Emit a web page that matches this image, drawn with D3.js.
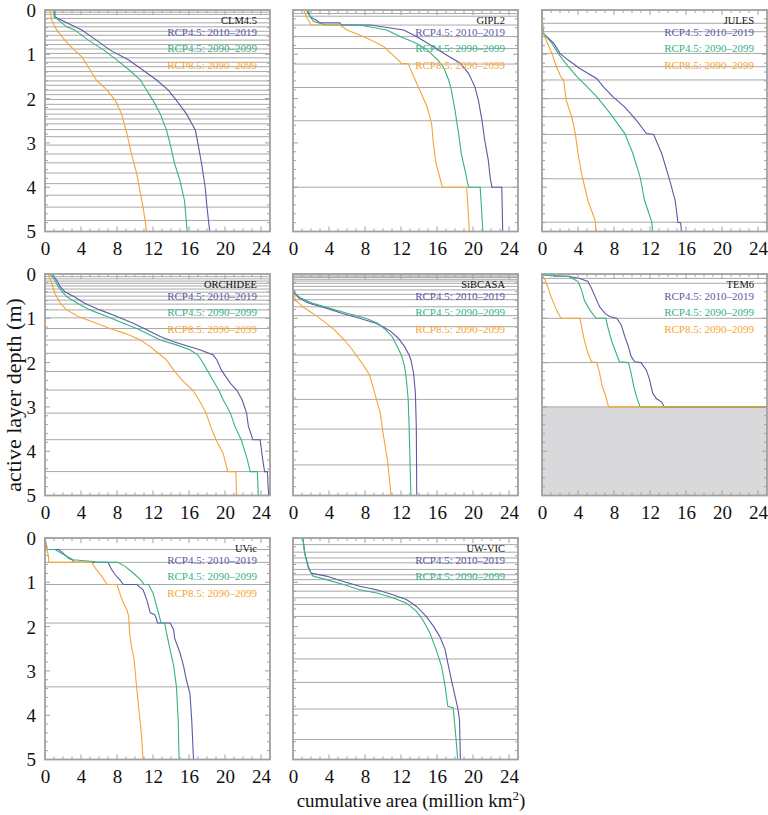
<!DOCTYPE html>
<html><head><meta charset="utf-8">
<script src="https://cdn.jsdelivr.net/npm/d3@7"></script>
<style>body{margin:0;background:#fff}svg{display:block}</style>
</head><body><svg id="c" width="768" height="815"></svg>
<script>
// ---------- data ----------
const modelNames = ["CLM4.5","GIPL2","JULES","ORCHIDEE","SiBCASA","TEM6","UVic","UW-VIC"];
const seriesNames = ["RCP4.5: 2010\u20132019","RCP4.5: 2090\u20132099","RCP8.5: 2090\u20132099"];
const seriesColors = ["#5b5aa5","#35b283","#f6a435"];
const xTicks = [0,4,8,12,16,20,24];
const yTicks = [0,1,2,3,4,5];
const xTitle = "cumulative area (million km";
const yTitle = "active layer depth (m)";

// soil layer boundaries (m)
const layersCLM = [0.05,0.1,0.19,0.29,0.38,0.48,0.57,0.68,0.78,0.88,0.98,1.08,1.18,1.28,1.39,1.49,1.6,1.7,1.81,1.91,2.02,2.13,2.24,2.35,2.46,2.57,2.7,2.86,3.05,3.25,3.45,3.68,3.92,4.18,4.45,4.75];
const layersGIPL = [0.08,0.14,0.34,0.6,0.87,1.22,1.75,2.5,4.0];
const layersJULES = [0.3,0.49,0.98,1.28,1.58,2.0,2.41,2.81,3.81,4.79];
const layersORC = [0.06,0.11,0.16,0.21,0.27,0.34,0.41,0.5,0.59,0.68,0.81,0.99,1.23,1.49,1.79,2.2,2.62,3.14,3.74,4.46];
const layersSIB = [0.02,0.05,0.08,0.12,0.16,0.21,0.28,0.36,0.46,0.58,0.74,0.94,1.19,1.49,1.83,2.28,2.83,3.5,4.31];
const layersTEM = [0.1,0.21,1.0,2.0,3.0];
const layersUVIC = [0.26,0.55,1.05,1.92,3.36];
const layersUW = [0.15,0.32,0.45,0.56,0.71,0.83,0.94,1.05,1.2,1.35,1.5,1.77,2.26,2.73,3.26,3.86,4.55];

// curves: [cumulative area (million km2), depth (m)]
const clmA = [[1.1,0],[1.1,0.15],[1.5,0.2],[4.1,0.45],[5.7,0.68],[7.2,0.9],[9.3,1.13],[10.9,1.36],[12.4,1.58],[13.7,1.81],[14.6,2.04],[15.7,2.34],[16.7,2.71],[17.0,3.02],[17.4,3.47],[17.8,4.0],[18.0,4.45],[18.3,5]];
const clmB = [[1.0,0],[1.0,0.15],[1.5,0.23],[2.4,0.38],[3.3,0.45],[4.8,0.68],[6.5,0.9],[8.0,1.13],[9.4,1.36],[10.6,1.58],[11.3,1.81],[12.0,2.04],[12.8,2.34],[13.5,2.71],[13.9,3.02],[14.4,3.47],[15.0,3.85],[15.5,4.3],[15.8,5]];
const clmC = [[0.6,0],[0.6,0.08],[0.75,0.23],[1.3,0.45],[2.2,0.68],[3.1,0.87],[4.1,1.06],[4.8,1.28],[5.7,1.58],[6.9,1.81],[7.8,2.04],[8.5,2.34],[9.1,2.79],[9.6,3.24],[10.2,3.7],[10.6,4.15],[10.9,4.45],[11.3,5]];

const giplA = [[1.5,0],[1.9,0.15],[2.6,0.23],[3.0,0.29],[5.2,0.29],[5.4,0.34],[8.6,0.34],[12.3,0.45],[13.7,0.6],[15.6,0.83],[17.1,1.02],[18.6,1.2],[19.5,1.43],[20.2,1.73],[20.6,2.04],[21.0,2.49],[21.3,2.94],[21.7,3.39],[21.9,3.77],[22.1,4.0],[23.2,4.0],[23.3,5]];
const giplB = [[1.7,0],[1.9,0.15],[2.3,0.26],[3.7,0.34],[7.4,0.34],[10.4,0.45],[11.9,0.6],[13.7,0.75],[14.9,0.9],[16.1,1.13],[16.7,1.28],[17.3,1.58],[17.6,1.81],[18.0,2.26],[18.4,2.79],[18.7,3.24],[19.2,3.7],[19.5,4.0],[20.8,4.0],[21.1,5]];
const giplC = [[1.2,0],[1.5,0.15],[1.9,0.3],[2.0,0.34],[5.2,0.34],[6.0,0.45],[7.8,0.6],[8.7,0.68],[10.1,0.83],[11.1,1.02],[11.9,1.17],[12.0,1.21],[12.8,1.21],[13.4,1.5],[14.1,1.81],[14.9,2.19],[15.4,2.56],[15.6,3.02],[15.9,3.47],[16.6,4.0],[19.3,4.0],[19.6,5]];

const julA = [[0,0],[0.1,0.5],[0.15,0.53],[1.3,0.75],[2.0,0.98],[2.9,1.13],[4.2,1.32],[6.1,1.55],[6.8,1.73],[7.9,1.96],[9.2,2.19],[10.5,2.49],[11.6,2.79],[12.4,2.81],[13.3,3.24],[14.2,3.85],[14.8,4.3],[15.1,4.79],[15.4,4.8],[15.5,5]];
const julB = [[0,0],[0.1,0.5],[0.15,0.53],[1.1,0.75],[1.8,0.98],[2.6,1.2],[3.9,1.51],[5.0,1.73],[6.1,1.96],[7.6,2.34],[9.2,2.79],[10.1,3.24],[10.9,3.77],[11.4,4.3],[12.2,4.79],[12.3,5]];
const julC = [[0,0],[0.1,0.5],[0.15,0.53],[0.6,0.75],[1.1,0.98],[1.6,1.28],[2.1,1.51],[2.4,1.58],[2.7,2.04],[3.3,2.41],[3.7,2.79],[4.0,3.24],[4.4,3.7],[5.1,4.3],[5.9,4.75],[6.0,5]];

const orcA = [[0.75,0],[1.3,0.14],[1.7,0.29],[2.2,0.4],[3.2,0.51],[4.4,0.66],[6.1,0.81],[8.0,0.96],[9.8,1.11],[11.3,1.26],[12.8,1.41],[14.3,1.53],[16.1,1.64],[17.2,1.71],[18.7,1.83],[19.1,1.94],[19.6,2.17],[20.6,2.47],[21.3,2.62],[21.9,2.84],[22.4,3.14],[22.6,3.44],[23.1,3.74],[23.9,3.74],[24.2,4.2],[24.4,4.46],[24.7,4.46],[24.85,5]];
const orcB = [[0.55,0],[1.1,0.14],[1.5,0.29],[1.9,0.4],[2.4,0.51],[3.6,0.66],[5.0,0.81],[6.9,0.96],[8.7,1.11],[10.2,1.23],[11.3,1.34],[12.8,1.49],[14.6,1.6],[16.1,1.71],[17.0,1.83],[17.6,2.02],[18.1,2.2],[19.3,2.62],[19.8,2.84],[20.6,3.14],[21.1,3.44],[21.8,3.74],[22.5,4.2],[22.8,4.46],[23.6,4.46],[23.7,5]];
const orcC = [[0.35,0],[0.75,0.21],[1.1,0.44],[1.7,0.66],[2.4,0.81],[3.7,0.96],[5.7,1.11],[7.2,1.23],[8.9,1.34],[10.6,1.49],[11.7,1.64],[12.6,1.79],[13.5,1.94],[14.3,2.17],[15.2,2.39],[16.4,2.62],[17.1,2.84],[17.9,3.14],[18.4,3.44],[19.0,3.74],[19.8,4.05],[20.3,4.46],[21.2,4.46],[21.3,5]];

const sibA = [[0,0],[0,0.3],[0.15,0.44],[0.7,0.55],[1.8,0.66],[3.7,0.77],[5.5,0.89],[7.4,1.0],[9.2,1.11],[10.0,1.19],[10.9,1.3],[11.7,1.45],[12.4,1.64],[12.9,1.83],[13.1,1.94],[13.4,2.24],[13.6,2.7],[13.7,3.44],[13.75,5]];
const sibB = [[0,0],[0,0.33],[0.25,0.44],[0.9,0.55],[2.2,0.66],[4.0,0.77],[6.1,0.89],[8.1,1.0],[9.4,1.11],[10.3,1.26],[11.0,1.41],[11.6,1.64],[12.1,1.86],[12.4,2.09],[12.6,2.39],[12.8,2.84],[12.9,3.44],[13.1,5]];
const sibC = [[0,0],[0,0.38],[0.07,0.44],[0.3,0.59],[1.1,0.74],[2.2,0.89],[3.5,1.08],[4.6,1.26],[5.7,1.49],[6.6,1.71],[7.0,1.83],[7.7,2.02],[8.5,2.28],[9.1,2.7],[9.7,3.14],[10.0,3.59],[10.5,4.2],[10.9,5]];

const temA = [[1.2,0],[1.3,0.05],[2.9,0.05],[4.2,0.1],[5.1,0.17],[5.5,0.32],[5.9,0.51],[6.4,0.74],[7.0,0.89],[7.5,0.96],[8.3,1.0],[8.8,1.15],[9.2,1.41],[9.6,1.64],[9.9,1.86],[10.3,1.98],[11.0,2.0],[11.6,2.17],[11.96,2.39],[12.3,2.69],[12.7,2.81],[13.3,2.89],[13.6,3.0],[25,3.0]];
const temB = [[0.1,0],[0.1,0.03],[2.9,0.05],[3.4,0.1],[4.0,0.17],[4.4,0.36],[4.7,0.59],[5.3,0.81],[6.0,1.0],[7.1,1.0],[7.3,1.19],[7.7,1.49],[8.1,1.71],[8.6,1.98],[9.6,2.0],[9.9,2.24],[10.2,2.54],[10.5,2.77],[10.9,3.0],[25,3.0]];
const temC = [[0,0],[0.5,0.21],[1.0,0.51],[1.6,0.81],[2.1,1.0],[4.2,1.0],[4.4,1.19],[4.7,1.49],[5.1,1.79],[5.5,1.98],[6.1,2.0],[6.4,2.24],[6.7,2.54],[7.1,2.77],[7.4,3.0],[25,3.0]];

const uvicA = [[0,0],[0.2,0.23],[0.2,0.26],[1.5,0.26],[2.0,0.34],[2.6,0.45],[3.1,0.5],[3.2,0.55],[7.0,0.55],[7.4,0.71],[7.8,0.83],[8.3,0.94],[8.7,1.05],[10.2,1.05],[10.9,1.17],[11.3,1.39],[11.7,1.69],[12.2,1.73],[12.4,1.84],[12.5,1.92],[13.9,1.92],[14.3,2.07],[14.4,2.26],[15.0,2.59],[15.4,2.89],[15.7,3.2],[16.1,3.5],[16.3,4.1],[16.5,5]];
const uvicB = [[0,0],[0,0.2],[0.1,0.26],[1.1,0.26],[2.4,0.41],[3.1,0.49],[5.4,0.53],[5.6,0.55],[8.1,0.55],[8.9,0.64],[9.8,0.79],[10.6,0.94],[10.9,1.02],[11.0,1.05],[11.5,1.05],[12.0,1.24],[12.4,1.54],[12.8,1.84],[12.9,1.92],[13.3,1.92],[13.5,2.14],[13.9,2.52],[14.3,2.89],[14.6,3.35],[14.8,4.1],[14.9,5]];
const uvicC = [[0,0],[0.2,0.26],[0.4,0.41],[0.4,0.55],[5.2,0.55],[5.7,0.71],[6.3,0.86],[6.9,1.05],[8.0,1.05],[8.3,1.24],[8.7,1.47],[9.1,1.62],[9.3,1.77],[9.4,2.14],[9.6,2.44],[9.9,2.74],[10.1,3.2],[10.4,3.8],[10.7,4.4],[10.9,5]];

const uwA = [[1.1,0],[1.3,0.34],[1.7,0.64],[2.0,0.79],[3.7,0.86],[5.6,0.98],[7.4,1.09],[9.3,1.17],[11.1,1.28],[12.6,1.39],[13.7,1.54],[14.8,1.77],[15.6,1.99],[16.3,2.22],[16.9,2.52],[17.2,2.82],[17.6,3.2],[18.0,3.57],[18.3,3.83],[18.5,4.1],[18.6,5]];
const uwB = [[1.1,0],[1.3,0.34],[1.7,0.68],[2.2,0.86],[3.7,0.94],[5.6,1.05],[7.4,1.17],[9.3,1.24],[11.1,1.35],[12.6,1.47],[13.7,1.65],[14.4,1.84],[15.2,2.14],[15.9,2.52],[16.5,2.89],[16.9,3.35],[17.2,3.8],[17.8,3.83],[18.1,4.5],[18.3,5]];

const panelLayers = [layersCLM,layersGIPL,layersJULES,layersORC,layersSIB,layersTEM,layersUVIC,layersUW];
const panelCurves = [[clmA,clmB,clmC],[giplA,giplB,giplC],[julA,julB,julC],[orcA,orcB,orcC],[sibA,sibB,sibC],[temA,temB,temC],[uvicA,uvicB,uvicC],[uwA,uwB]];
const shadedBelow = [null,null,null,null,null,3,null,null];

// ---------- layout ----------
const colX = [45, 293, 542];
const rowY = [10, 274, 538];
const pw = 225, ph = 221.5;
const serif = "'Liberation Serif','Times New Roman',serif";

const svg = d3.select("#c");
const x = d3.scaleLinear().domain([0,25]).range([0,pw]);
const y = d3.scaleLinear().domain([0,5]).range([0,ph]);
const line = d3.line().x(d=>x(d[0])).y(d=>y(d[1]));

modelNames.forEach((name,i)=>{
  const c = i%3, r = Math.floor(i/3);
  const g = svg.append("g").attr("transform",`translate(${colX[c]},${rowY[r]})`);
  if (shadedBelow[i]!==null){
    g.append("rect").attr("x",0).attr("y",y(shadedBelow[i])).attr("width",pw).attr("height",ph-y(shadedBelow[i])).attr("fill","#d9d9db");
  }
  g.selectAll("line.layer").data(panelLayers[i]).join("line").attr("class","layer")
    .attr("x1",0).attr("x2",pw).attr("y1",d=>y(d)).attr("y2",d=>y(d))
    .attr("stroke","#a8a8a8").attr("stroke-width",1);
  panelCurves[i].forEach((cv,k)=>{
    g.append("path").attr("d",line(cv)).attr("fill","none").attr("stroke",seriesColors[k]).attr("stroke-width",1.1);
  });
  // frame
  g.append("rect").attr("x",0).attr("y",0).attr("width",pw).attr("height",ph).attr("fill","none").attr("stroke","#a0a0a0").attr("stroke-width",1.8);
  // ticks
  const tg = g.append("g").attr("stroke","#a0a0a0").attr("stroke-width",1);
  d3.range(0,26,1).forEach(v=>{
    const L = v%4===0 ? 5 : 3;
    tg.append("line").attr("x1",x(v)).attr("x2",x(v)).attr("y1",ph).attr("y2",ph-L);
    tg.append("line").attr("x1",x(v)).attr("x2",x(v)).attr("y1",0).attr("y2",L);
  });
  d3.range(0,26,1).map(v=>v/5).forEach(v=>{
    const L = Math.abs(v-Math.round(v))<1e-6 ? 5 : 3;
    tg.append("line").attr("y1",y(v)).attr("y2",y(v)).attr("x1",0).attr("x2",L);
    tg.append("line").attr("y1",y(v)).attr("y2",y(v)).attr("x1",pw).attr("x2",pw-L);
  });
  // x tick labels
  const xa = d3.axisBottom(x).tickValues(xTicks).tickFormat(d3.format("d")).tickSize(0).tickPadding(0);
  const xg = g.append("g").attr("transform",`translate(0,${ph})`).call(xa);
  xg.select(".domain").remove();
  xg.selectAll("text").attr("dy",null).attr("y",23).attr("font-family",serif).attr("font-size",19).attr("fill","#111");
  if (c===0){
    const ya = d3.axisLeft(y).tickValues(yTicks).tickFormat(d3.format("d")).tickSize(0).tickPadding(0);
    const yg = g.append("g").call(ya);
    yg.select(".domain").remove();
    yg.selectAll("text").attr("x",-9).attr("dy","0.34em").attr("font-family",serif).attr("font-size",19).attr("fill","#111");
  }
  // labels
  const tx = pw-13;
  g.append("text").attr("x",tx).attr("y",14).attr("text-anchor","end").attr("font-family",serif).attr("font-size",10.5).attr("fill","#111").text(name);
  panelCurves[i].forEach((cv,k)=>{
    g.append("text").attr("x",tx).attr("y",25.5+k*16.5).attr("text-anchor","end").attr("font-family",serif).attr("font-size",11).attr("fill",seriesColors[k]).text(seriesNames[k]);
  });
});

// axis titles
const xt = svg.append("text").attr("x",411).attr("y",807).attr("text-anchor","middle").attr("font-family",serif).attr("font-size",19).attr("fill","#111");
xt.append("tspan").text(xTitle);
xt.append("tspan").attr("dy",-7).attr("font-size",13).text("2");
xt.append("tspan").attr("dy",7).text(")");
svg.append("text").attr("transform","translate(21,395) rotate(-90)").attr("text-anchor","middle").attr("font-family",serif).attr("font-size",22).attr("fill","#111").text(yTitle);
</script></body></html>
